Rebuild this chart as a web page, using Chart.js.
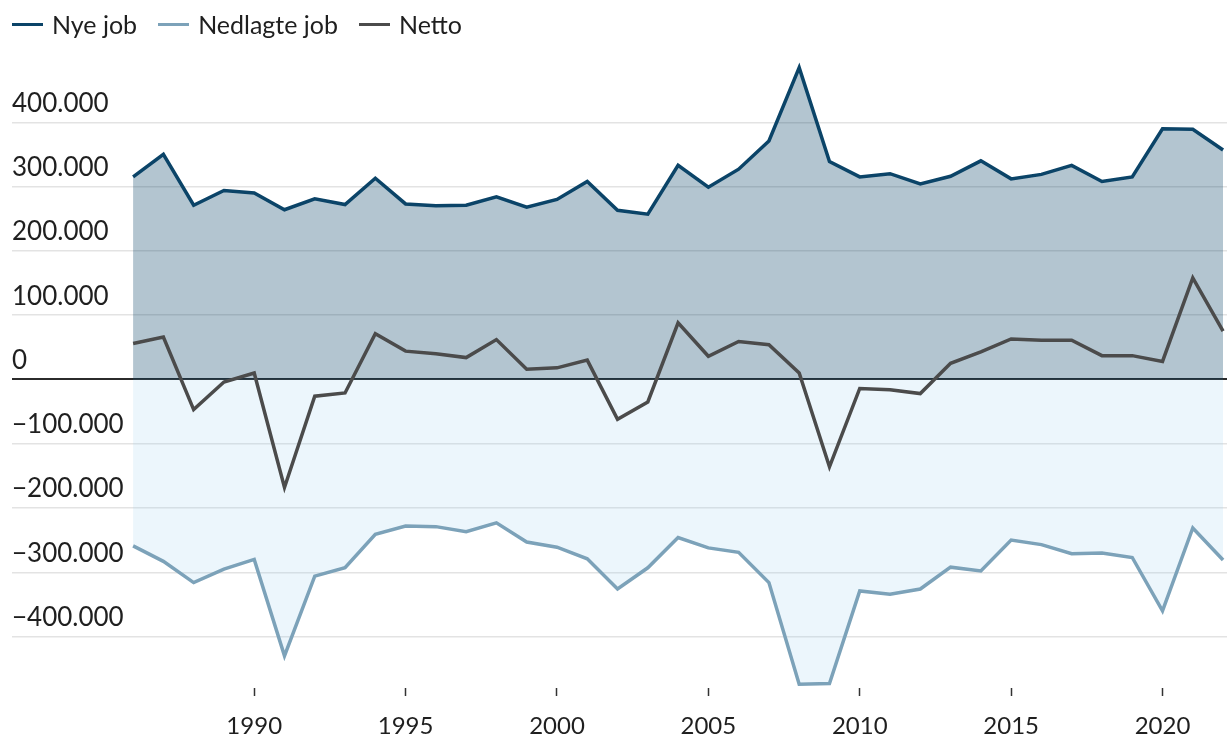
<!DOCTYPE html>
<html lang="da">
<head>
<meta charset="utf-8">
<title>Nye og nedlagte job</title>
<script src="https://cdn.jsdelivr.net/npm/chart.js@4.4.1/dist/chart.umd.min.js"></script>
<style>
    html, body {
        margin: 0;
        padding: 0;
        background: #ffffff;
    }
    #wrap {
        position: relative;
        width: 1227px;
        height: 736px;
    }
    #legend {
        position: absolute;
        left: 12px;
        top: 9px;
        display: flex;
        align-items: center;
        font-family: Lato, "Noto Sans", sans-serif;
        font-size: 25px;
        color: #1f1f1f;
        line-height: 30px;
    }
    #legend .item {
        display: flex;
        align-items: center;
        margin-right: 21px;
    }
    #legend .swatch {
        width: 31px;
        height: 3px;
        margin-right: 9px;
    }
</style>
</head>
<body>
<div id="wrap">
    <canvas id="jobChart" width="1227" height="736"></canvas>
    <div id="legend"></div>
</div>
<script>
// Data
const years = [
    1986, 1987, 1988, 1989, 1990, 1991, 1992, 1993, 1994, 1995,
    1996, 1997, 1998, 1999, 2000, 2001, 2002, 2003, 2004, 2005,
    2006, 2007, 2008, 2009, 2010, 2011, 2012, 2013, 2014, 2015,
    2016, 2017, 2018, 2019, 2020, 2021, 2022
];
const nyeJob = [
    315000, 350000, 271000, 294000, 290000, 264000, 281000, 272000, 313000, 273000,
    270000, 271000, 284000, 268000, 280000, 308000, 263000, 257000, 333000, 299000,
    327000, 371000, 485000, 339000, 315000, 320000, 304000, 316000, 340000, 312000,
    319000, 333000, 308000, 315000, 390000, 389000, 357000
];
const nedlagteJob = [
    -259000, -283000, -316000, -295000, -280000, -430000, -306000, -293000, -241000, -228000,
    -229000, -237000, -223000, -253000, -261000, -279000, -326000, -293000, -246000, -262000,
    -269000, -316000, -474000, -473000, -329000, -334000, -326000, -292000, -298000, -250000,
    -257000, -271000, -270000, -277000, -360000, -231000, -281000
];
const netto = [
    56000, 66000, -47000, -4000, 10000, -168000, -26000, -21000, 71000, 44000,
    40000, 34000, 62000, 16000, 18000, 30000, -62000, -35000, 88000, 36000,
    59000, 54000, 10000, -136000, -14000, -16000, -22000, 25000, 43000, 63000,
    61000, 61000, 37000, 37000, 28000, 158000, 75000
];
const yTicks = [-400000, -300000, -200000, -100000, 0, 100000, 200000, 300000, 400000];
const xTicks = [1990, 1995, 2000, 2005, 2010, 2015, 2020];

(function() {
    'use strict';

    const FONT = 'Lato, "Noto Sans", sans-serif';
    const TEXT = '#1f1f1f';

    // Tal med punktum som tusindtalsseparator og rigtigt minustegn
    function formatNumber(value) {
        const digits = Math.abs(value).toString().replace(/\B(?=(\d{3})+(?!\d))/g, '.');
        return (value < 0 ? '\u2212' : '') + digits;
    }

    function toPoints(values) {
        return years.map(function(year, i) {
            return { x: year, y: values[i] };
        });
    }

    const datasets = [
        {
            label: 'Nye job',
            data: toPoints(nyeJob),
            borderColor: '#0b4468',
            backgroundColor: 'rgba(11, 68, 104, 0.31)',
            fill: 'origin',
            order: 2
        },
        {
            label: 'Nedlagte job',
            data: toPoints(nedlagteJob),
            borderColor: '#7ca2b9',
            backgroundColor: 'rgba(150, 205, 240, 0.18)',
            fill: 'origin',
            order: 3
        },
        {
            label: 'Netto',
            data: toPoints(netto),
            borderColor: '#4b4b4b',
            backgroundColor: 'transparent',
            fill: false,
            order: 1
        }
    ];

    datasets.forEach(function(ds) {
        ds.borderWidth = 3.5;
        ds.pointRadius = 0;
        ds.pointHoverRadius = 0;
        ds.tension = 0;
        ds.borderJoinStyle = 'miter';
        ds.clip = false;
    });

    // HTML-legende
    const legend = document.getElementById('legend');
    datasets.forEach(function(ds) {
        const item = document.createElement('span');
        item.className = 'item';
        const swatch = document.createElement('span');
        swatch.className = 'swatch';
        swatch.style.background = ds.borderColor;
        item.appendChild(swatch);
        item.appendChild(document.createTextNode(ds.label));
        legend.appendChild(item);
    });

    const config = {
        type: 'line',
        data: { datasets: datasets },
        options: {
            responsive: false,
            animation: false,
            layout: {
                padding: { left: 12, right: 0, top: 58, bottom: 0 }
            },
            plugins: {
                legend: { display: false },
                tooltip: { enabled: false }
            },
            scales: {
                x: {
                    type: 'linear',
                    min: 1982,
                    max: 2022.13,
                    border: { display: false },
                    grid: {
                        drawOnChartArea: false,
                        drawTicks: true,
                        tickLength: 8,
                        tickWidth: 1.5,
                        tickColor: '#333333'
                    },
                    ticks: {
                        autoSkip: false,
                        maxRotation: 0,
                        padding: 16,
                        color: TEXT,
                        font: { family: FONT, size: 24 },
                        callback: function(value) {
                            return String(value);
                        }
                    },
                    afterBuildTicks: function(scale) {
                        scale.ticks = xTicks.map(function(v) { return { value: v }; });
                    },
                    afterFit: function(scale) {
                        scale.height = 48;
                    }
                },
                y: {
                    min: -480000,
                    max: 500000,
                    border: { display: false },
                    grid: {
                        drawTicks: false,
                        color: function(ctx) {
                            return ctx.tick && ctx.tick.value === 0 ? '#2b2b2b' : '#e3e3e3';
                        },
                        lineWidth: function(ctx) {
                            return ctx.tick && ctx.tick.value === 0 ? 2 : 1.5;
                        }
                    },
                    ticks: {
                        mirror: true,
                        padding: 0,
                        labelOffset: -19,
                        color: TEXT,
                        font: { family: FONT, size: 26 },
                        callback: function(value) {
                            return formatNumber(value);
                        }
                    },
                    afterBuildTicks: function(scale) {
                        scale.ticks = yTicks.map(function(v) { return { value: v }; });
                    }
                }
            }
        }
    };

    new Chart(document.getElementById('jobChart'), config);
})();
</script>
</body>
</html>
